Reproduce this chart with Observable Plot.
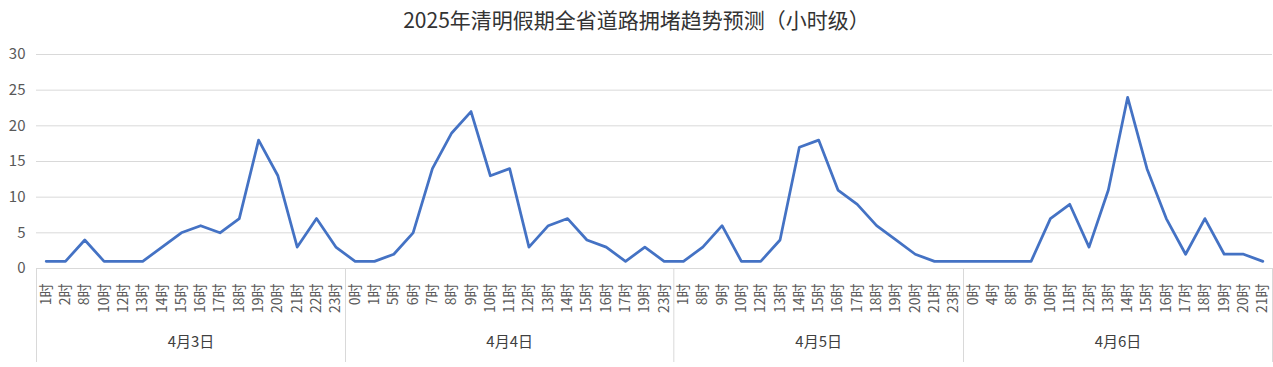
<!DOCTYPE html>
<html>
<head>
<meta charset="utf-8">
<script src="https://cdn.jsdelivr.net/npm/d3@7"></script>
<script src="https://cdn.jsdelivr.net/npm/@observablehq/plot@0.6"></script>
<style>
  html, body { margin: 0; padding: 0; background: #fff; }
  #title { height: 36px; line-height: 38px; text-align: center; font-family: "Noto Sans CJK SC", sans-serif; font-size: 21px; color: #333; width: 1273px; }
  #chart svg { display: block; }
</style>
</head>
<body>
<div id="title">2025年清明假期全省道路拥堵趋势预测（小时级）</div>
<div id="chart"></div>
<script>
// Days and hour labels
const days = ["4月3日", "4月4日", "4月5日", "4月6日"];
const hours3 = [1, 2, 8, 10, 12, 13, 14, 15, 16, 17, 18, 19, 20, 21, 22, 23];
const hours4 = [0, 1, 5, 6, 7, 8, 9, 10, 11, 12, 13, 14, 15, 16, 17, 19, 23];
const hours5 = [1, 8, 9, 10, 12, 13, 14, 15, 16, 17, 18, 19, 20, 21, 23];
const hours6 = [0, 4, 8, 9, 10, 11, 12, 13, 14, 15, 16, 17, 18, 19, 20, 21];
// Congestion values
const values3 = [1, 1, 4, 1, 1, 1, 3, 5, 6, 5, 7, 18, 13, 3, 7, 3];
const values4 = [1, 1, 2, 5, 14, 19, 22, 13, 14, 3, 6, 7, 4, 3, 1, 3, 1];
const values5 = [1, 3, 6, 1, 1, 4, 17, 18, 11, 9, 6, 4, 2, 1, 1];
const values6 = [1, 1, 1, 1, 7, 9, 3, 11, 24, 14, 7, 2, 7, 2, 2, 1];
const yTicks = [0, 5, 10, 15, 20, 25, 30];

const hourLists = [hours3, hours4, hours5, hours6];
const valueLists = [values3, values4, values5, values6];

const data = [];
const groups = [];
let idx = 0;
hourLists.forEach((hs, d) => {
  const start = idx;
  hs.forEach((h, k) => {
    data.push({i: idx, label: h + "时", value: valueLists[d][k], day: days[d]});
    idx++;
  });
  groups.push({day: days[d], start: start - 0.5, end: idx - 0.5, mid: (start + idx - 1) / 2});
});
const labels = data.map(d => d.label);
const bounds = [groups[0].start, ...groups.map(g => g.end)];

const W = 1273, H = 331;
const mTop = 18, mBottom = 99;
const plotH = H - mTop - mBottom;

const chart = Plot.plot({
  width: W,
  height: H,
  marginLeft: 36,
  marginRight: 1,
  marginTop: mTop,
  marginBottom: mBottom,
  style: {fontFamily: "'Noto Sans CJK SC', sans-serif", color: "#595959", background: "#fff", overflow: "visible"},
  x: {type: "linear", domain: [-0.5, data.length - 0.5], axis: null},
  y: {domain: [0, 30], axis: null},
  marks: [
    Plot.gridY(yTicks, {stroke: "#d9d9d9", strokeOpacity: 1, strokeWidth: 1}),
    Plot.axisY(yTicks, {tickSize: 0, tickPadding: 11, fontSize: 15, fill: "#595959", label: null}),
    Plot.axisX(data.map(d => d.i), {
      tickSize: 0, tickPadding: 15, tickRotate: -90, fontSize: 14, fill: "#595959", label: null,
      tickFormat: i => labels[i]
    }),
    Plot.ruleY([0], {stroke: "#d9d9d9", strokeWidth: 1}),
    Plot.ruleX(bounds, {stroke: "#d9d9d9", strokeWidth: 1, insetTop: plotH, insetBottom: -94}),
    Plot.text(groups, {x: "mid", text: "day", frameAnchor: "bottom", dy: 78, fontSize: 15, fill: "#404040"}),
    Plot.lineY(data, {x: "i", y: "value", stroke: "#4472C4", strokeWidth: 2.75, strokeLinejoin: "round"})
  ]
});
document.getElementById("chart").appendChild(chart);
</script>
</body>
</html>
